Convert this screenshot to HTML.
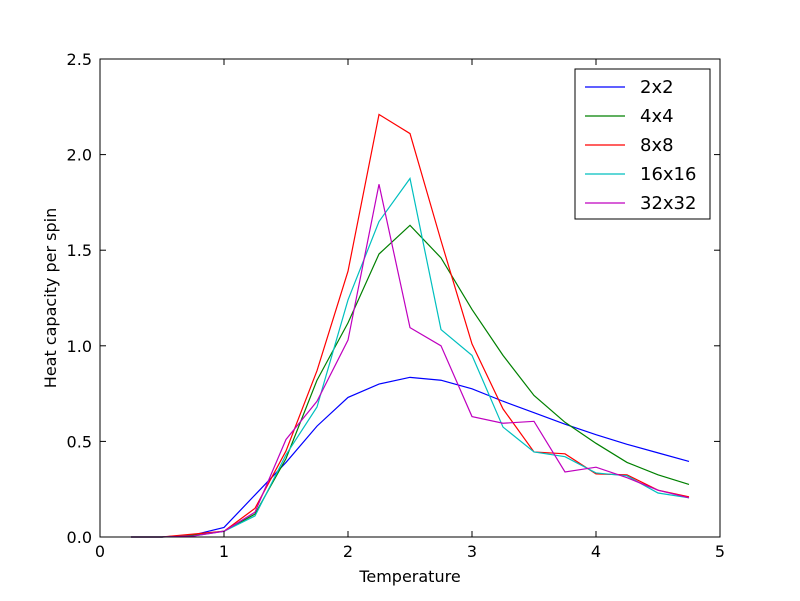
<!DOCTYPE html>
<html><head><meta charset="utf-8"><style>
body{margin:0;background:#fff;font-family:"DejaVu Sans","Liberation Sans",sans-serif}
svg text{font-family:"DejaVu Sans","Liberation Sans",sans-serif;font-size:16px;fill:#000}
</style></head><body>
<svg id="chart" width="800" height="597">
<rect x="0" y="0" width="800" height="597" fill="#fff"/>
<g id="plot"></g>
<rect x="100" y="59" width="620" height="478" fill="none" stroke="#000" stroke-width="1"/>
<g id="axes"></g>
<text x="410" y="582" text-anchor="middle">Temperature</text>
<text transform="translate(56,298) rotate(-90)" text-anchor="middle">Heat capacity per spin</text>
<g id="legend"></g>
</svg>
<script>
const temps=[0.25,0.5,0.75,1,1.25,1.5,1.75,2,2.25,2.5,2.75,3,3.25,3.5,3.75,4,4.25,4.5,4.75];
const seriesNames=["2x2","4x4","8x8","16x16","32x32"];
const s2x2=[0,0,0.01,0.05,0.22,0.39,0.58,0.73,0.80,0.835,0.82,0.775,0.71,0.65,0.59,0.535,0.485,0.44,0.395];
const s4x4=[0,0,0.01,0.03,0.12,0.41,0.82,1.12,1.48,1.63,1.46,1.19,0.95,0.74,0.60,0.49,0.39,0.325,0.275];
const s8x8=[0,0,0.015,0.03,0.15,0.45,0.87,1.39,2.21,2.11,1.55,1.01,0.67,0.445,0.435,0.33,0.325,0.245,0.21];
const s16x16=[0,0,0.005,0.03,0.11,0.43,0.68,1.24,1.65,1.875,1.085,0.95,0.575,0.445,0.42,0.335,0.32,0.23,0.205];
const s32x32=[0,0,0.005,0.03,0.13,0.51,0.71,1.03,1.845,1.095,1.0,0.63,0.595,0.605,0.34,0.365,0.31,0.245,0.205];
const xTicks=[0,1,2,3,4,5];
const yTicks=[0.0,0.5,1.0,1.5,2.0,2.5];
const colors=["#0000ff","#008000","#ff0000","#00bfbf","#bf00bf"];
const allSeries=[s2x2,s4x4,s8x8,s16x16,s32x32];
const NS="http://www.w3.org/2000/svg";
const X=v=>100+v*124, Y=v=>537-v*191.2;
const plot=document.getElementById('plot'),axes=document.getElementById('axes'),leg=document.getElementById('legend');
allSeries.forEach((s,i)=>{
 const p=document.createElementNS(NS,'polyline');
 p.setAttribute('points',s.map((v,j)=>X(temps[j])+','+Y(v)).join(' '));
 p.setAttribute('fill','none');p.setAttribute('stroke',colors[i]);p.setAttribute('stroke-width','1.2');
 
 
 plot.appendChild(p);
});
xTicks.forEach(t=>{
 const x=X(t);
 [[537,531],[59,65]].forEach(([a,b])=>{const l=document.createElementNS(NS,'line');l.setAttribute('x1',x);l.setAttribute('x2',x);l.setAttribute('y1',a);l.setAttribute('y2',b);l.setAttribute('stroke','#000');
 
 axes.appendChild(l);});
 const tx=document.createElementNS(NS,'text');tx.setAttribute('x',x);tx.setAttribute('y',557);tx.setAttribute('text-anchor','middle');tx.textContent=t;
 
 axes.appendChild(tx);
});
yTicks.forEach(t=>{
 const y=Y(t);
 [[100,106],[720,714]].forEach(([a,b])=>{const l=document.createElementNS(NS,'line');l.setAttribute('x1',a);l.setAttribute('x2',b);l.setAttribute('y1',y);l.setAttribute('y2',y);l.setAttribute('stroke','#000');
 
 axes.appendChild(l);});
 const tx=document.createElementNS(NS,'text');tx.setAttribute('x',92);tx.setAttribute('y',y+6);tx.setAttribute('text-anchor','end');tx.textContent=t.toFixed(1);
 
 axes.appendChild(tx);
});
const box=document.createElementNS(NS,'rect');box.setAttribute('x',575);box.setAttribute('y',69);box.setAttribute('width',135);box.setAttribute('height',150);box.setAttribute('fill','#fff');box.setAttribute('stroke','#000');

leg.appendChild(box);
seriesNames.forEach((n,i)=>{
 const y=87+i*29;
 const l=document.createElementNS(NS,'line');l.setAttribute('x1',585);l.setAttribute('x2',625);l.setAttribute('y1',y);l.setAttribute('y2',y);l.setAttribute('stroke',colors[i]);l.setAttribute('stroke-width','1.2');
 
 leg.appendChild(l);
 const tx=document.createElementNS(NS,'text');tx.setAttribute('x',640);tx.setAttribute('y',y+6);tx.setAttribute('style','font-size:18px');tx.textContent=n;
 
 leg.appendChild(tx);
});
</script>
</body></html>
